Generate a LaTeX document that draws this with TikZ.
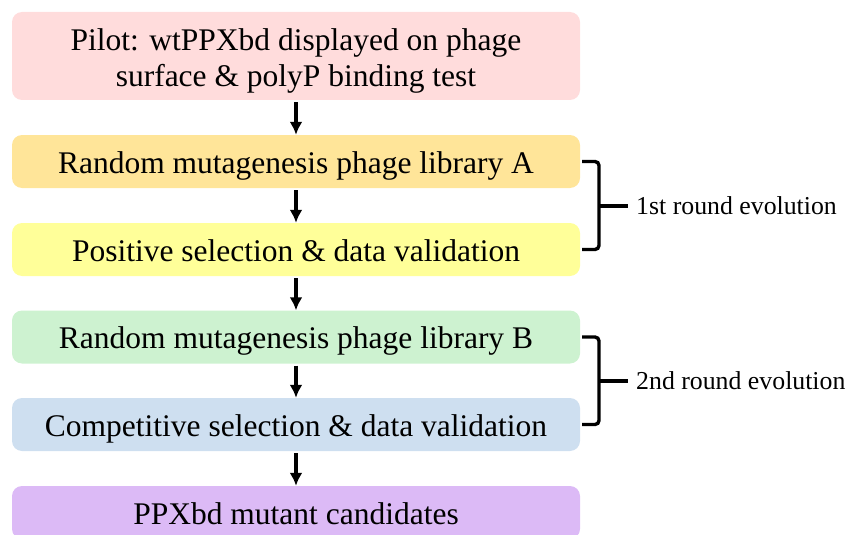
\documentclass[tikz,border=0pt]{standalone}
\usepackage{fontspec}
\setmainfont{Liberation Serif}
\usepackage{xcolor}
\usetikzlibrary{arrows.meta,calc}
\definecolor{pilotpink}{HTML}{FFDCDC}
\definecolor{libgold}{HTML}{FFE599}
\definecolor{selyellow}{HTML}{FFFF99}
\definecolor{libmint}{HTML}{CDF2D0}
\definecolor{selblue}{HTML}{CEDFF0}
\definecolor{candlilac}{HTML}{DCBAF6}

\begin{document}
\begin{tikzpicture}[x=1pt, y=-1pt,
  stage/.style={rectangle, rounded corners=10pt, minimum width=568pt, minimum height=53pt, inner sep=0pt, align=center, text height=24pt, text depth=1pt, font=\fontsize{31.5}{36}\selectfont},
  flow/.style={-{Latex[length=13pt,width=13pt]}, line width=3.4pt, shorten <=2pt, shorten >=0pt},
  bracket/.style={line width=3.4pt, rounded corners=4pt},
  roundlbl/.style={anchor=west, inner sep=8pt, font=\fontsize{25.8}{28}\selectfont}
]
\useasboundingbox (0,0) rectangle (852,535);

% Pipeline stages
\node[stage, fill=pilotpink, minimum height=88pt, text height=62pt, text depth=0pt] (pilot) at (296,56) {Pilot: wtPPXbd displayed on phage\\surface \& polyP binding test};
\node[stage, fill=libgold] (libA) at (296,161.5) {Random mutagenesis phage library A};
\node[stage, fill=selyellow] (possel) at (296,249.5) {Positive selection \& data validation};
\node[stage, fill=libmint] (libB) at (296,337) {Random mutagenesis phage library B};
\node[stage, fill=selblue] (compsel) at (296,424.5) {Competitive selection \& data validation};
\node[stage, fill=candlilac] (cand) at (296,512.5) {PPXbd mutant candidates};

\draw[flow] (pilot) -- (libA); \draw[flow] (libA) -- (possel);
\draw[flow] (possel) -- (libB); \draw[flow] (libB) -- (compsel);
\draw[flow] (compsel) -- (cand);

% Evolution rounds
\coordinate (bkA) at (599,206);
\coordinate (bkB) at (599,381);
\node[roundlbl] (evoA) at (628,206) {1st round evolution};
\node[roundlbl] (evoB) at (628,381) {2nd round evolution};

\draw[bracket] ([xshift=2pt]libA.east) -| (bkA) |- ([xshift=2pt]possel.east);
\draw[line width=3.4pt] (bkA) -- (evoA.west);
\draw[bracket] ([xshift=2pt]libB.east) -| (bkB) |- ([xshift=2pt]compsel.east);
\draw[line width=3.4pt] (bkB) -- (evoB.west);
\end{tikzpicture}
\end{document}
